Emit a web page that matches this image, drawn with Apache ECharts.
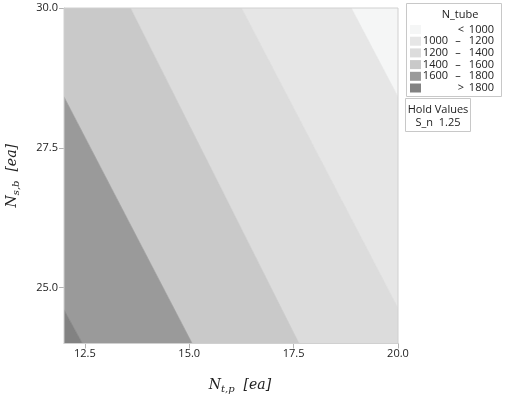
<!DOCTYPE html>
<html>
<head>
<meta charset="utf-8">
<script src="https://cdn.jsdelivr.net/npm/echarts@6/dist/echarts.min.js"></script>
<style>
html,body{margin:0;padding:0;background:#fff;}
#chart{width:507px;height:408px;}
</style>
</head>
<body>
<div id="chart"></div>
<script>
// ---- data ----
const xRange = [12, 20];
const yRange = [24, 30];
const xTicks = [12.5, 15, 17.5, 20];
const yTicks = [25, 27.5, 30];
// contour boundary polygons (data coordinates), one per band
const bandOver1800 = [[12, 24], [12, 24.60], [12.44, 24]];
const band1600_1800 = [[12, 24.60], [12, 28.41], [15.07, 24], [12.44, 24]];
const band1400_1600 = [[12, 28.41], [12, 30], [13.59, 30], [17.63, 24], [15.07, 24]];
const band1200_1400 = [[13.59, 30], [16.25, 30], [20, 24.63], [20, 24], [17.63, 24]];
const band1000_1200 = [[16.25, 30], [18.88, 30], [20, 28.41], [20, 24.63]];
const bandUnder1000 = [[18.88, 30], [20, 30], [20, 28.41]];
const bands = [bandUnder1000, band1000_1200, band1200_1400, band1400_1600, band1600_1800, bandOver1800];
const bandColors = ['#f5f6f6', '#e6e6e6', '#dcdcdc', '#c9c9c9', '#9a9a9a', '#828282'];
const legendLow = ['<', '1000', '1200', '1400', '1600', '>'];
const legendHigh = ['1000', '1200', '1400', '1600', '1800', '1800'];
const legendTitle = 'N_tube';
const holdTitle = 'Hold Values';
const holdText = 'S_n  1.25';

const chart = echarts.init(document.getElementById('chart'), null, {renderer: 'canvas'});
const labelFont = '"Open Sans", "Noto Sans", sans-serif';
const mathFont = '"DejaVu Serif", "Liberation Serif", serif';
const fs = 11;

const richName = {
  n: {fontFamily: mathFont, fontStyle: 'italic', fontSize: 14, color: '#222', lineHeight: 18, verticalAlign: 'middle'},
  s: {fontFamily: mathFont, fontStyle: 'italic', fontSize: 10, color: '#222', lineHeight: 10, verticalAlign: 'bottom'},
  u: {fontFamily: mathFont, fontStyle: 'italic', fontSize: 14, color: '#222', lineHeight: 18, verticalAlign: 'middle'}
};

const graphics = [];
const txt = (x, y, text, align) => ({type: 'text', x: x, y: y, z: 11,
  style: {text: text, font: fs + 'px ' + labelFont, fill: '#222', textAlign: align, textVerticalAlign: 'middle'}});
// legend box
graphics.push({type: 'rect', shape: {x: 406.5, y: 3.5, width: 95, height: 93}, style: {fill: '#fff', stroke: '#c8c8c8', lineWidth: 1}, z: 10});
graphics.push(txt(460, 15, legendTitle, 'center'));
for (let i = 0; i < bandColors.length; i++) {
  const yy = 29.5 + i * 11.7;
  graphics.push({type: 'rect', shape: {x: 410, y: yy - 4.5, width: 11, height: 9}, style: {fill: bandColors[i]}, z: 11});
  const isEdge = (i === 0 || i === bandColors.length - 1);
  if (isEdge) {
    graphics.push(txt(461, yy, legendLow[i], 'center'));
  } else {
    graphics.push(txt(448, yy, legendLow[i], 'right'));
    graphics.push(txt(458, yy, '–', 'center'));
  }
  graphics.push(txt(494, yy, legendHigh[i], 'right'));
}
// hold values box
graphics.push({type: 'rect', shape: {x: 405.5, y: 98.5, width: 65, height: 33}, style: {fill: '#fff', stroke: '#c8c8c8', lineWidth: 1}, z: 10});
graphics.push(txt(438, 110, holdTitle, 'center'));
graphics.push(txt(438, 122.5, holdText, 'center'));

const option = {
  animation: false,
  backgroundColor: '#fff',
  grid: {left: 64, top: 8, width: 334, height: 335.5, containLabel: false, outerBoundsMode: 'none',
    show: true, borderColor: '#d0d0d0', borderWidth: 1, backgroundColor: 'transparent', z: 5},
  xAxis: {
    type: 'value', min: xRange[0], max: xRange[1],
    name: '{n|N}{s|t,p}{u|  [ea]}', nameLocation: 'middle', nameGap: 33,
    nameTextStyle: {rich: richName, padding: [0, 0, 0, 18]},
    axisLine: {show: true, lineStyle: {color: '#c4c4c4', width: 1}},
    axisTick: {show: true, length: 5, lineStyle: {color: '#b4b4b4'}, customValues: xTicks},
    axisLabel: {customValues: xTicks, formatter: v => v.toFixed(1), fontFamily: labelFont, fontSize: fs, color: '#222', margin: 5},
    splitLine: {show: false}
  },
  yAxis: {
    type: 'value', min: yRange[0], max: yRange[1],
    name: '{n|N}{s|s,b}{u|  [ea]}', nameLocation: 'middle', nameGap: 43, nameRotate: 90,
    nameTextStyle: {rich: richName},
    axisLine: {show: true, lineStyle: {color: '#c4c4c4', width: 1}},
    axisTick: {show: true, length: 5, lineStyle: {color: '#b4b4b4'}, customValues: yTicks},
    axisLabel: {customValues: yTicks, formatter: v => v.toFixed(1), fontFamily: labelFont, fontSize: fs, color: '#222', margin: 6},
    splitLine: {show: false}
  },
  series: [{
    type: 'custom',
    coordinateSystem: 'cartesian2d',
    data: bands.map((b, i) => [b[0][0], b[0][1], i]),
    encode: {x: 0, y: 1},
    renderItem: function (params, api) {
      const idx = params.dataIndex;
      const pts = bands[idx].map(p => api.coord(p));
      return {
        type: 'polygon',
        shape: {points: pts},
        style: {fill: bandColors[idx], stroke: bandColors[idx], lineWidth: 0.6}
      };
    },
    clip: true,
    silent: true
  }],
  graphic: graphics
};
chart.setOption(option);
</script>
</body>
</html>
